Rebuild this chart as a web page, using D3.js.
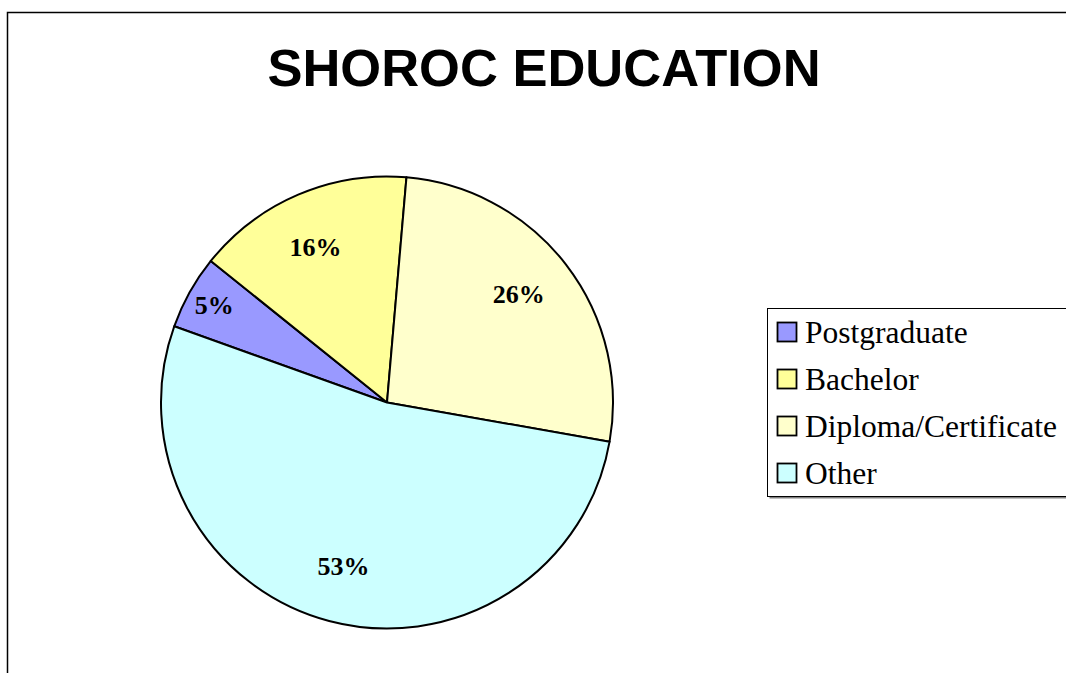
<html>
<head>
<script src="https://d3js.org/d3.v7.min.js"></script>
<style>
  body { margin: 0; background: #fff; }
  .title { font-family: "Liberation Sans", Arial, sans-serif; font-weight: bold; }
  .lbl { font-family: "Liberation Serif", "Times New Roman", serif; font-weight: bold; }
  .leg { font-family: "Liberation Serif", "Times New Roman", serif; }
</style>
</head>
<body>
<svg id="chart" width="1066" height="673"></svg>
<script>
// data
const categories = ["Postgraduate", "Bachelor", "Diploma/Certificate", "Other"];
const shares = [5.3, 15.6, 26.4, 52.7];
const colours = ["#9999FF", "#FFFF99", "#FFFFCC", "#CCFFFF"];
const chartTitle = "SHOROC EDUCATION";

const svg = d3.select("#chart");

// chart area frame (runs off the right and bottom of the picture)
svg.append("rect")
    .attr("x", 7.5).attr("y", 12.5)
    .attr("width", 1200).attr("height", 800)
    .attr("fill", "#fff")
    .attr("stroke", "#000")
    .attr("stroke-width", 1.5);

svg.append("text")
    .attr("class", "title")
    .attr("x", 544).attr("y", 86)
    .attr("text-anchor", "middle")
    .attr("font-size", 52.5)
    .text(chartTitle);

const cx = 387, cy = 402.5, radius = 226;
const start = -70.3 * Math.PI / 180;

const pie = d3.pie().sort(null).value(d => d)
    .startAngle(start).endAngle(start + 2 * Math.PI);
const arcs = pie(shares);
const total = d3.sum(shares);

const arc = d3.arc().innerRadius(0).outerRadius(radius);

const g = svg.append("g").attr("transform", `translate(${cx},${cy})`);

g.selectAll("path.slice")
    .data(arcs)
    .join("path")
    .attr("class", "slice")
    .attr("d", arc)
    .attr("fill", (d, i) => colours[i])
    .attr("stroke", "#000")
    .attr("stroke-width", 2)
    .attr("stroke-linejoin", "round");

// labels: small slices are pushed further out, like the original
g.selectAll("text.lbl")
    .data(arcs)
    .join("text")
    .attr("class", "lbl")
    .attr("font-size", 26)
    .attr("text-anchor", "middle")
    .attr("dy", "0.3em")
    .attr("transform", d => {
        const pct = d.value / total;
        const r = pct < 0.1 ? 198 : 170;
        const a = (d.startAngle + d.endAngle) / 2 - (pct < 0.5 && pct > 0.1 ? 0.03 : 0);
        return `translate(${r * Math.sin(a)},${-r * Math.cos(a)})`;
    })
    .text(d => Math.round(d.value / total * 100) + "%");

// legend
const legX = 767.5, legY = 308.5;
const legend = svg.append("g");
legend.append("rect")
    .attr("x", legX + 2).attr("y", legY + 2)
    .attr("width", 400).attr("height", 188)
    .attr("fill", "#808080");
legend.append("rect")
    .attr("x", legX).attr("y", legY)
    .attr("width", 400).attr("height", 188)
    .attr("fill", "#fff")
    .attr("stroke", "#000")
    .attr("stroke-width", 1);

const rowY = d3.scalePoint().domain(categories).range([343, 484]);

const rows = legend.selectAll("g.row")
    .data(categories)
    .join("g")
    .attr("class", "row");

rows.append("rect")
    .attr("x", 777.5)
    .attr("y", d => rowY(d) - 20.5)
    .attr("width", 19).attr("height", 19)
    .attr("fill", (d, i) => colours[i])
    .attr("stroke", "#000")
    .attr("stroke-width", 1.8);

rows.append("text")
    .attr("class", "leg")
    .attr("x", 805)
    .attr("y", d => rowY(d))
    .attr("font-size", 31.5)
    .text(d => d);
</script>
</body>
</html>
